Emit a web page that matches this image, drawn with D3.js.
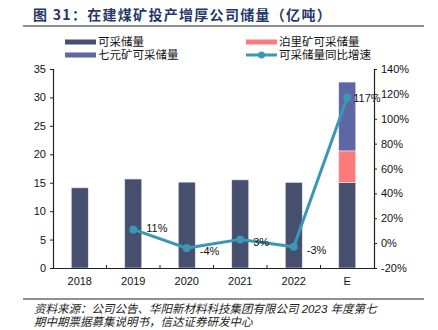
<!DOCTYPE html>
<html>
<head>
<meta charset="utf-8">
<script src="https://cdn.jsdelivr.net/npm/d3@7"></script>
<style>
  body { margin: 0; background: #fff; }
  svg { font-family: "Liberation Sans", Arial, "Noto Sans CJK SC", sans-serif; }
</style>
</head>
<body>
<div id="chart"></div>
<script>
// categories and values
var years = ["2018", "2019", "2020", "2021", "2022", "E"];
var reserves = [14.1, 15.65, 15.1, 15.5, 15.05, 15.05];   // 可采储量
var boliReserves = [0, 0, 0, 0, 0, 5.55];                   // 泊里矿可采储量
var qiyuanReserves = [0, 0, 0, 0, 0, 12.1];                 // 七元矿可采储量
var growth = [null, 11, -4, 3, -3, 117];                     // 可采储量同比增速 (%)
var growthLabels = ["", "11%", "-4%", "3%", "-3%", "117%"];
var leftTicks = [0, 5, 10, 15, 20, 25, 30, 35];
var rightTicks = [-20, 0, 20, 40, 60, 80, 100, 120, 140];

var W = 438, H = 330;
var svg = d3.select("#chart").append("svg").attr("width", W).attr("height", H);

var colDark = "#474f6e", colPink = "#ff7b7b", colPurple = "#5c67a3", colLine = "#3a97b5";

// title
svg.append("text").attr("x", 33).attr("y", 20)
    .attr("font-size", 14).attr("font-weight", "bold").attr("fill", "#26386a")
    .attr("letter-spacing", 1.3)
    .attr("font-family", "'Noto Sans CJK SC', sans-serif")
    .text("图 31：在建煤矿投产增厚公司储量（亿吨）");
svg.append("line").attr("x1", 23).attr("x2", 424).attr("y1", 26).attr("y2", 26)
    .attr("stroke", "#222").attr("stroke-width", 1.2);

var x0 = 53, x1 = 374, yTop = 69, yBot = 268;

var x = d3.scaleBand().domain(years).range([x0, x1]);
var yL = d3.scaleLinear().domain([0, 35]).range([yBot, yTop]);
var yR = d3.scaleLinear().domain([-20, 140]).range([yBot, yTop]);
var barW = 17;

// stacked bars
var stackData = years.map(function (y, i) {
    return {year: y, a: reserves[i], b: boliReserves[i], c: qiyuanReserves[i]};
});
var series = d3.stack().keys(["a", "b", "c"])(stackData);
var colors = {a: colDark, b: colPink, c: colPurple};

series.forEach(function (s) {
    svg.append("g").selectAll("rect").data(s).enter()
        .filter(function (d) { return d[1] - d[0] > 0; })
        .append("rect")
        .attr("x", function (d) { return x(d.data.year) + x.bandwidth() / 2 - barW / 2; })
        .attr("y", function (d) { return yL(d[1]); })
        .attr("width", barW)
        .attr("height", function (d) { return yL(d[0]) - yL(d[1]); })
        .attr("fill", colors[s.key])
        .attr("stroke", "#e6e8f0").attr("stroke-width", 0.6);
});

// left axis
var axL = svg.append("g").attr("transform", "translate(" + x0 + ",0)")
    .call(d3.axisLeft(yL).tickValues(leftTicks).tickSize(3).tickPadding(4));
// right axis
var axR = svg.append("g").attr("transform", "translate(" + x1 + ",0)")
    .call(d3.axisRight(yR).tickValues(rightTicks).tickSize(3).tickPadding(4)
        .tickFormat(function (d) { return d + "%"; }));
// bottom axis
var axB = svg.append("g").attr("transform", "translate(0," + yBot + ")")
    .call(d3.axisBottom(x).tickSize(0).tickPadding(9));
[axL, axR, axB].forEach(function (a) {
    a.select(".domain").attr("stroke", "#222").attr("stroke-width", 1.2);
    a.selectAll(".tick line").attr("stroke", "#222");
    a.selectAll("text").attr("font-size", 11).attr("fill", "#111");
});
// category separator ticks on the x axis
svg.append("g").selectAll("line").data(years.slice(1)).enter().append("line")
    .attr("x1", function (d) { return x(d); }).attr("x2", function (d) { return x(d); })
    .attr("y1", yBot - 3).attr("y2", yBot)
    .attr("stroke", "#222");

// growth line
var pts = years.map(function (y, i) { return {year: y, v: growth[i], label: growthLabels[i]}; })
    .filter(function (d) { return d.v !== null; });
var line = d3.line()
    .x(function (d) { return x(d.year) + x.bandwidth() / 2; })
    .y(function (d) { return yR(d.v); });
svg.append("path").datum(pts).attr("d", line)
    .attr("fill", "none").attr("stroke", colLine).attr("stroke-width", 3);
svg.append("g").selectAll("circle").data(pts).enter().append("circle")
    .attr("cx", function (d) { return x(d.year) + x.bandwidth() / 2; })
    .attr("cy", function (d) { return yR(d.v); })
    .attr("r", 4).attr("fill", colLine);
svg.append("g").selectAll("text").data(pts).enter().append("text")
    .attr("x", function (d) { return x(d.year) + x.bandwidth() / 2 + (d.year === "E" ? 6 : 13); })
    .attr("y", function (d) { return yR(d.v) + (d.year === "E" ? 4 : (d.year === "2019" ? 3 : 7)); })
    .attr("font-size", 11).attr("fill", "#111")
    .text(function (d) { return d.label; });

// legend
var legend = [
    {name: "可采储量", color: colDark, x: 65, y: 42, type: "bar"},
    {name: "泊里矿可采储量", color: colPink, x: 246, y: 42, type: "bar"},
    {name: "七元矿可采储量", color: colPurple, x: 65, y: 55, type: "bar"},
    {name: "可采储量同比增速", color: colLine, x: 246, y: 55, type: "line"}
];
var lg = svg.append("g").selectAll("g").data(legend).enter().append("g");
lg.filter(function (d) { return d.type === "bar"; }).append("rect")
    .attr("x", function (d) { return d.x; }).attr("y", function (d) { return d.y - 2.5; })
    .attr("width", 31).attr("height", 5).attr("fill", function (d) { return d.color; });
lg.filter(function (d) { return d.type === "line"; }).each(function (d) {
    var g = d3.select(this);
    g.append("line").attr("x1", d.x).attr("x2", d.x + 31).attr("y1", d.y).attr("y2", d.y)
        .attr("stroke", d.color).attr("stroke-width", 3);
    g.append("circle").attr("cx", d.x + 15.5).attr("cy", d.y).attr("r", 3.5).attr("fill", d.color);
});
lg.append("text").attr("x", function (d) { return d.x + 33; }).attr("y", function (d) { return d.y + 4; })
    .attr("font-size", 11.5).attr("fill", "#111")
    .text(function (d) { return d.name; });

// source note
svg.append("line").attr("x1", 23).attr("x2", 424).attr("y1", 299).attr("y2", 299)
    .attr("stroke", "#222").attr("stroke-width", 1.2);
var note = svg.append("g").attr("font-size", 11.5).attr("fill", "#222").attr("font-style", "italic");
note.append("text").attr("x", 34).attr("y", 313)
    .text("资料来源：公司公告、华阳新材料科技集团有限公司 2023 年度第七");
note.append("text").attr("x", 34).attr("y", 326)
    .text("期中期票据募集说明书，信达证券研发中心");
</script>
</body>
</html>
